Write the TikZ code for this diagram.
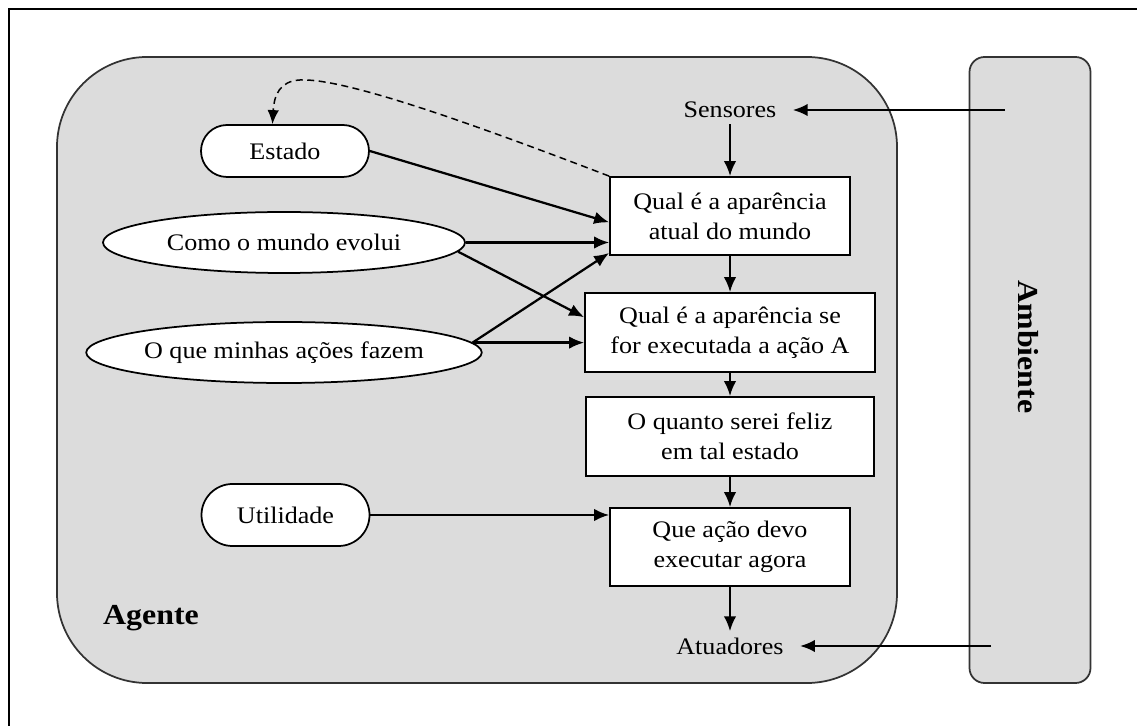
\documentclass[tikz,border=0pt]{standalone}
\usepackage{fontspec}
\setmainfont{Liberation Serif}[FakeStretch=1.1]
\usetikzlibrary{shapes.geometric,arrows.meta}
\definecolor{fundo}{RGB}{220,220,220}

\begin{document}
\begin{tikzpicture}[
  x=0.2mm, y=-0.2mm,
  bloco/.style={rectangle, draw, fill=white, line width=0.35mm, inner sep=0pt, align=center},
  oval/.style={ellipse, draw, fill=white, line width=0.35mm, minimum width=72.4mm, minimum height=12.2mm, inner sep=0pt},
  pilula/.style={rectangle, rounded corners=5.2mm, draw, fill=white, line width=0.35mm, minimum width=33.6mm, minimum height=10.4mm, inner sep=0pt},
  caixa/.style={rectangle, draw=black!80, fill=fundo, line width=0.35mm},
  porta/.style={inner xsep=3.2mm, inner ysep=1.2mm},
  titulo/.style={font=\fontsize{16.5}{20}\selectfont\bfseries},
  seta/.style={-{Latex[length=3mm,width=2.5mm]}, line width=0.45mm},
  font=\fontsize{13.5}{17}\selectfont
]
\useasboundingbox (0,0) rectangle (1137,726);
\draw[line width=0.45mm] (9,726) -- (9,9) -- (1137,9);

% Agente e ambiente
\node[caixa, rounded corners=18mm, minimum width=168mm, minimum height=125.2mm] (agente) at (477,370) {};
\node[caixa, rounded corners=3mm, minimum width=24.2mm, minimum height=125.2mm] (ambiente) at (1030,370) {};
\node[titulo] (nomeagente) at (151,618) {Agente};
\node[titulo, rotate=-90] (nomeambiente) at (1028,347) {Ambiente};

\node[porta] (sensores) at (730,110) {Sensores};
\node[bloco, minimum width=48mm, minimum height=15.6mm] (aparencia) at (730,216) {Qual é a aparência\\atual do mundo};
\node[bloco, minimum width=58mm, minimum height=15.8mm] (hipotese) at (730,332.5) {Qual é a aparência se\\for executada a ação A};
\node[bloco, minimum width=57.6mm, minimum height=15.8mm] (feliz) at (730,436.5) {O quanto serei feliz\\em tal estado};
\node[bloco, minimum width=48mm, minimum height=15.6mm] (acao) at (730,547) {Que ação devo\\executar agora};
\node[porta] (atuadores) at (730,646) {Atuadores};

\node[pilula] (estado) at (285,151) {Estado};
\node[oval] (evolui) at (284,242.5) {Como o mundo evolui};
\node[oval] (acoes) at (284,352.5) {O que minhas ações fazem};
\node[pilula, minimum height=12.4mm, rounded corners=6.2mm] (utilidade) at (285.5,515) {Utilidade};

\coordinate (entrada) at (1005,110);
\coordinate (saida) at (991,646);
\coordinate (topo) at (300,80);

% Arrows
\draw[seta] (entrada) -- (sensores);
\draw[seta] (sensores) -- (aparencia);
\draw[seta] (aparencia) -- (hipotese);
\draw[seta] (hipotese) -- (feliz);
\draw[seta] (feliz) -- (acao);
\draw[seta] (acao) -- (atuadores);
\draw[seta] (saida) -- (atuadores);

\draw[seta] (estado.east) -- (aparencia.183);
\draw[seta] (evolui) -- (evolui -| aparencia.west);
\draw[seta] (evolui.-3) -- (hipotese.174);
\draw[seta] (acoes.3) -- (aparencia.197);
\draw[seta] (acoes.3) -- (acoes.3 -| hipotese.west);
\draw[seta] (utilidade) -- (utilidade -| acao.west);

\draw[-{Latex[length=2.8mm,width=2.3mm]}, line width=0.3mm, dash pattern=on 1.4mm off 0.9mm] (aparencia.north west) .. controls (450,115) and (340,78) .. (topo) .. controls (280,81) and (274,95) .. (estado.115);
\end{tikzpicture}
\end{document}
